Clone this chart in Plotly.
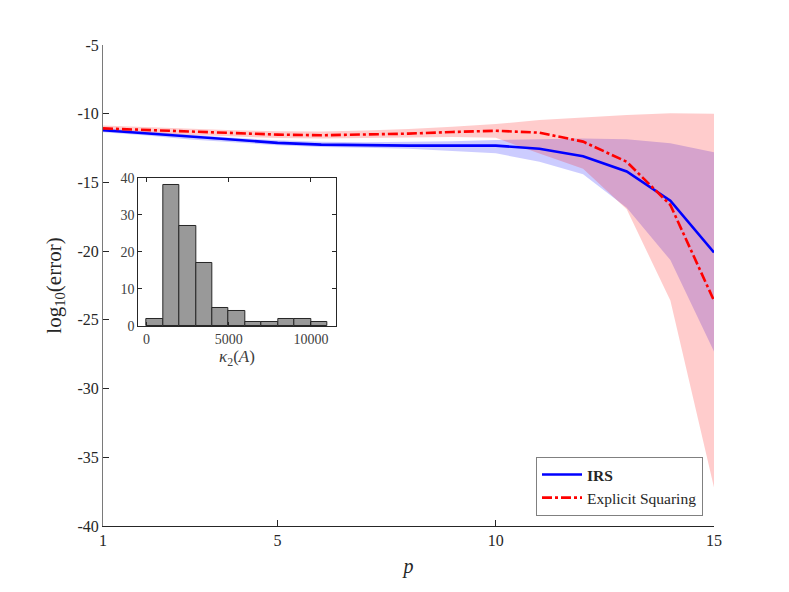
import plotly.graph_objects as go

# ---- data ----
p = [1, 2, 3, 4, 5, 6, 7, 8, 9, 10, 11, 12, 13, 14, 15]

irs_mean = [-11.2, -11.43, -11.7, -11.93, -12.12, -12.25, -12.3, -12.32, -12.32, -12.32, -12.55, -13.1, -14.2, -16.33, -20.1]
irs_upper = [-11.05, -11.28, -11.53, -11.75, -11.93, -12.04, -12.07, -12.06, -12.0, -11.92, -11.85, -11.8, -11.85, -12.15, -12.8]
irs_lower = [-11.35, -11.58, -11.87, -12.1, -12.3, -12.42, -12.48, -12.55, -12.7, -12.88, -13.5, -14.4, -16.85, -20.65, -27.3]

es_mean = [-11.07, -11.19, -11.33, -11.43, -11.52, -11.57, -11.52, -11.45, -11.33, -11.24, -11.38, -12.03, -13.5, -16.64, -23.6]
es_upper = [-10.85, -10.97, -11.1, -11.2, -11.28, -11.3, -11.22, -11.12, -10.95, -10.75, -10.46, -10.26, -10.1, -9.97, -10.0]
es_lower = [-11.3, -11.42, -11.56, -11.67, -11.77, -11.8, -11.78, -11.74, -11.7, -11.75, -12.9, -14.0, -16.95, -23.6, -37.2]

hist_centers = [500, 1500, 2500, 3500, 4500, 5500, 6500, 7500, 8500, 9500, 10500]
hist_counts = [2, 38, 27, 17, 5, 4, 1, 1, 2, 2, 1]
hist_width = 1000

x_ticks = [1, 5, 10, 15]
y_ticks = [-5, -10, -15, -20, -25, -30, -35, -40]
y_tick_labels = ["-5", "-10", "-15", "-20", "-25", "-30", "-35", "-40"]
inset_x_ticks = [0, 5000, 10000]
inset_x_tick_labels = ["0", "5000", "10000"]
inset_y_ticks = [0, 10, 20, 30, 40]

FONT = "Liberation Serif"
AX = "#262626"
GR = "#404040"

fig = go.Figure()

# bands
fig.add_trace(go.Scatter(
    x=p + p[::-1], y=irs_upper + irs_lower[::-1],
    fill="toself", fillcolor="rgba(0,0,255,0.2)", line=dict(width=0),
    mode="lines", showlegend=False, hoverinfo="skip"))
fig.add_trace(go.Scatter(
    x=p + p[::-1], y=es_upper + es_lower[::-1],
    fill="toself", fillcolor="rgba(255,0,0,0.2)", line=dict(width=0),
    mode="lines", showlegend=False, hoverinfo="skip"))

# lines
fig.add_trace(go.Scatter(
    x=p, y=irs_mean, mode="lines", name="<b>IRS</b>",
    line=dict(color="rgb(0,0,255)", width=2.6)))
fig.add_trace(go.Scatter(
    x=p, y=es_mean, mode="lines", name="Explicit Squaring",
    line=dict(color="rgb(255,0,0)", width=2.6, dash="10px,3px,3px,3px")))

# inset histogram
fig.add_trace(go.Bar(
    x=hist_centers, y=hist_counts, width=hist_width,
    marker=dict(color="#999999", line=dict(color=AX, width=1)),
    xaxis="x2", yaxis="y2", showlegend=False))

fig.update_layout(
    width=789, height=592,
    margin=dict(l=103, r=75, t=45, b=66),
    paper_bgcolor="white", plot_bgcolor="white",
    font=dict(family=FONT, color=AX, size=15),
    xaxis=dict(
        range=[1, 15], tickvals=x_ticks, ticks="inside", ticklen=6,
        tickcolor=AX, showline=True, linecolor=AX, linewidth=1,
        showgrid=False, zeroline=False, automargin=False,
        tickfont=dict(family=FONT, size=16, color=AX),
        title=dict(text="<i>p</i>", font=dict(family=FONT, size=20, color=AX), standoff=10),
    ),
    yaxis=dict(
        range=[-40, -5], tickvals=y_ticks, ticktext=y_tick_labels,
        ticks="inside", ticklen=6,
        tickcolor=AX, showline=True, linecolor="#7a7a7a", linewidth=1,
        showgrid=False, zeroline=False, automargin=False,
        tickfont=dict(family=FONT, size=16, color=AX),
        title=dict(text="log<sub>10</sub>(error)", font=dict(family=FONT, size=21, color=AX), standoff=10),
    ),
    xaxis2=dict(
        domain=[0.0578, 0.3808], anchor="y2", range=[-500, 11500],
        tickvals=inset_x_ticks, ticktext=inset_x_tick_labels,
        ticks="inside", ticklen=4, tickcolor=AX,
        showline=True, linecolor=AX, linewidth=1, mirror="ticks",
        showgrid=False, zeroline=False, automargin=False,
        tickfont=dict(family=FONT, size=14, color=GR),
        title=dict(text="<i>κ</i><sub>2</sub>(<i>A</i>)", font=dict(family=FONT, size=17, color=GR), standoff=4),
    ),
    yaxis2=dict(
        domain=[0.4158, 0.7235], anchor="x2", range=[0, 40],
        tickvals=inset_y_ticks, ticks="inside", ticklen=4, tickcolor=AX,
        showline=True, linecolor=AX, linewidth=1, mirror="ticks",
        showgrid=False, zeroline=False, automargin=False,
        tickfont=dict(family=FONT, size=14, color=GR),
    ),
    legend=dict(
        x=0.982, y=0.021, xanchor="right", yanchor="bottom",
        bgcolor="white", bordercolor="#808080", borderwidth=1,
        font=dict(family=FONT, size=15.5, color=AX),
        tracegroupgap=0, itemwidth=40,
    ),
    bargap=0,
)

fig.write_html("out.html", config={"displayModeBar": False},
               post_script="document.body.style.margin='0';")
